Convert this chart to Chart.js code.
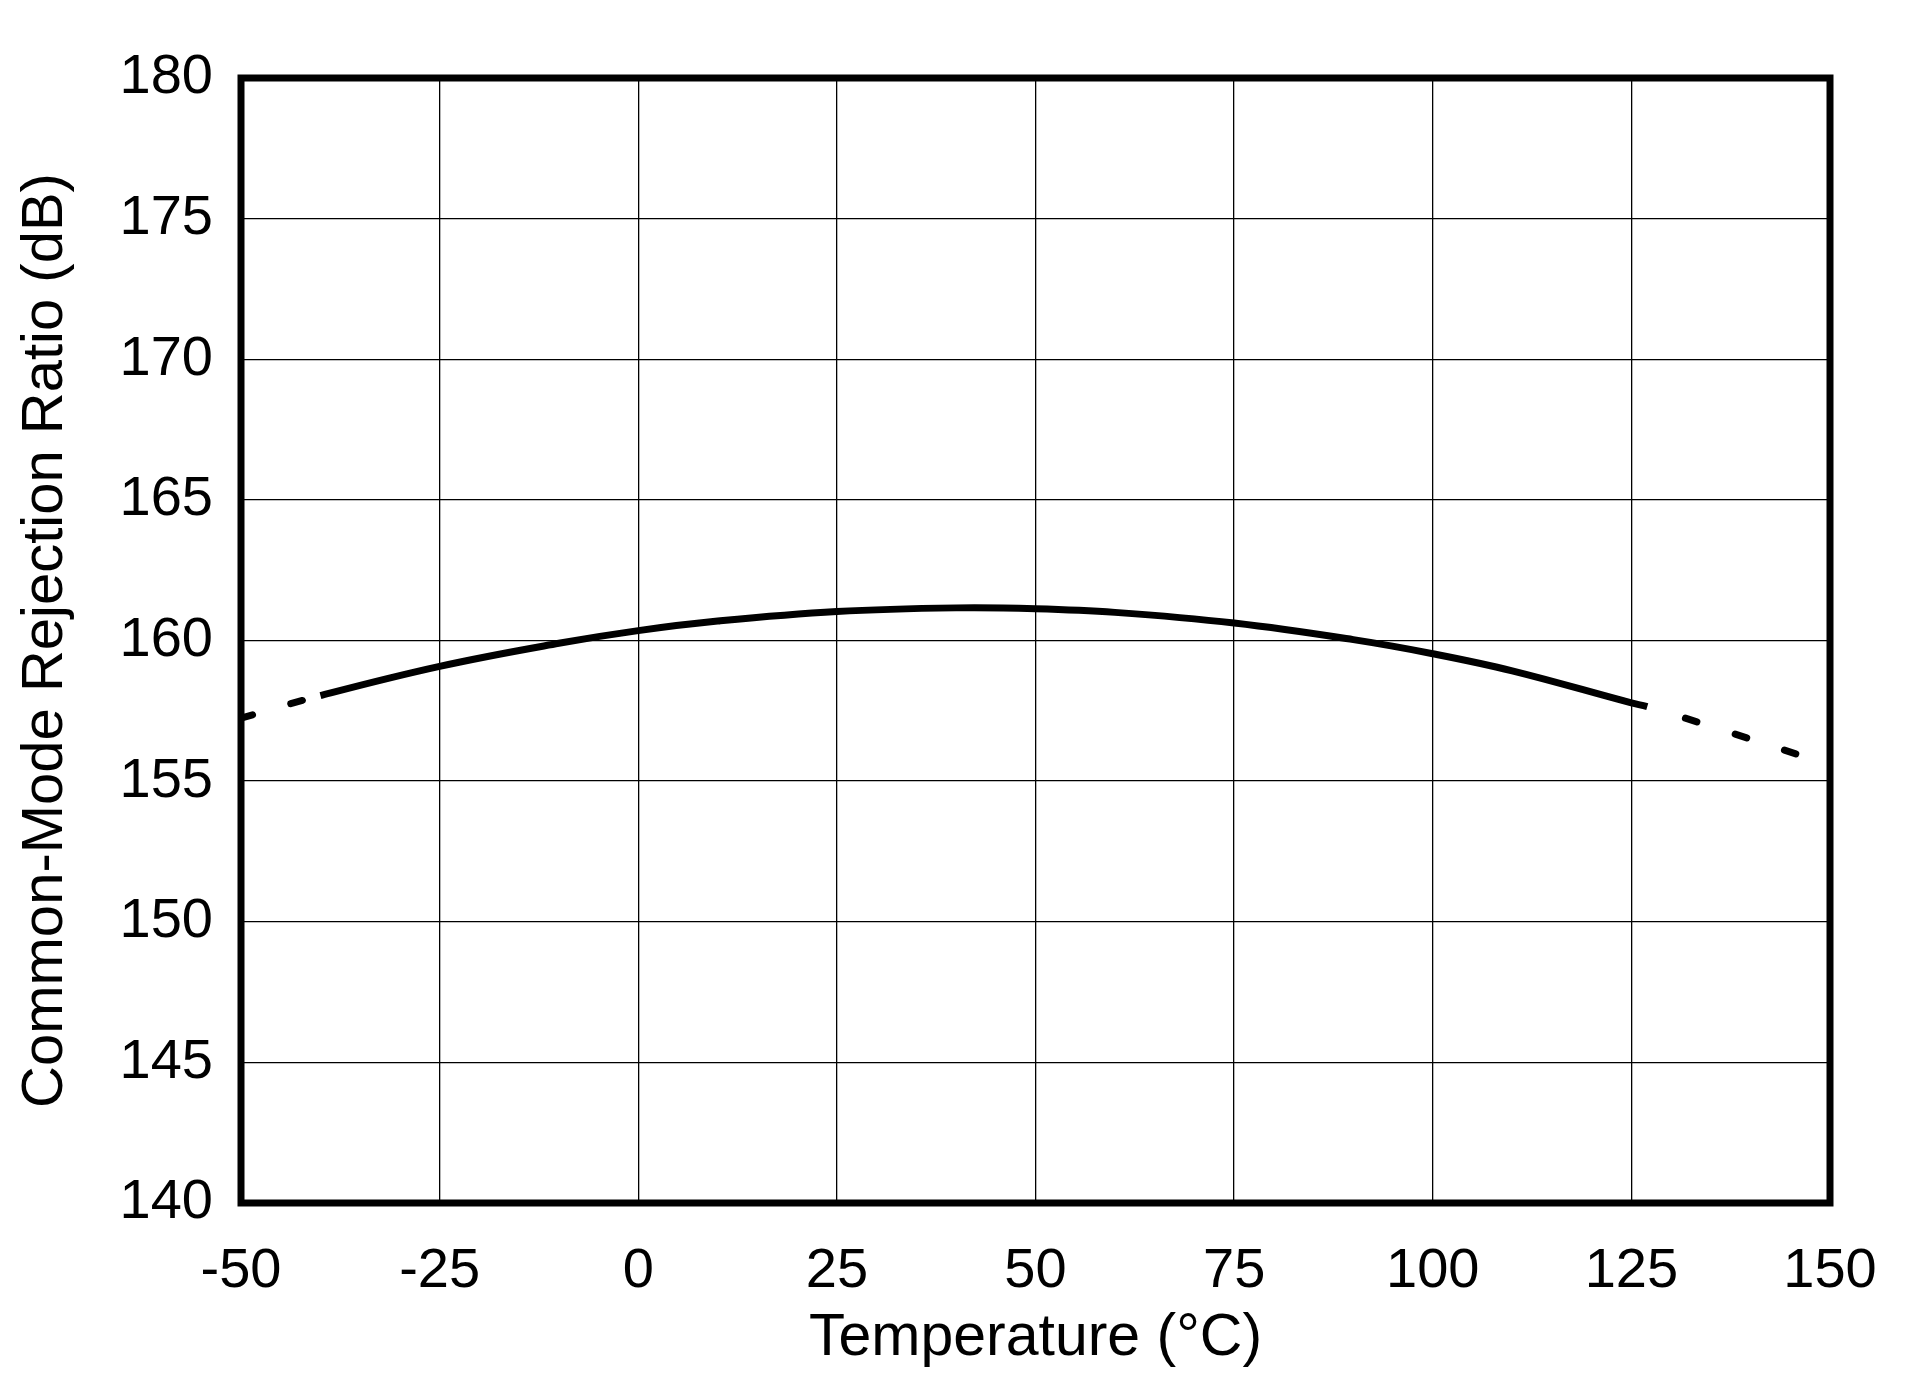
<!DOCTYPE html>
<html>
<head>
<meta charset="utf-8">
<title>CMRR vs Temperature</title>
<script src="https://cdn.jsdelivr.net/npm/chart.js@4.4.1/dist/chart.umd.min.js"></script>
<style>
  html, body { margin: 0; padding: 0; background: #ffffff; }
  canvas { display: block; }
</style>
</head>
<body>
<canvas id="grafico" width="1915" height="1382"></canvas>
<script>
// valores
const temperaturas = [-50, -40, -25, -10, 0, 10, 25, 40, 50, 60, 75, 90, 100, 110, 125, 127, 135, 148];
const cmrr = [157.24, 158.04, 159.08, 159.9, 160.35, 160.69, 161.03, 161.16, 161.13, 161.0, 160.62, 160.03, 159.53, 158.92, 157.78, 157.65, 156.95, 155.76];
const ticksX = [-50, -25, 0, 25, 50, 75, 100, 125, 150];
const ticksY = [140, 145, 150, 155, 160, 165, 170, 175, 180];

// tramo medido (linea continua); fuera de el la curva va a trazos
const inicioSolido = -40;
const finSolido = 127;

const puntos = temperaturas.map((t, i) => ({ x: t, y: cmrr[i] }));

const fuente = 'Liberation Sans, Arial, sans-serif';

// marco completo alrededor del area del grafico
const marco = {
  id: 'marco',
  afterDraw(chart) {
    const a = chart.chartArea;
    const ctx = chart.ctx;
    ctx.save();
    ctx.strokeStyle = '#000';
    ctx.lineWidth = 7;
    ctx.strokeRect(a.left, a.top, a.right - a.left, a.bottom - a.top);
    ctx.restore();
  }
};

function aTrazos(c) {
  return c.p1.parsed.x <= inicioSolido || c.p0.parsed.x >= finSolido;
}

const ctx = document.getElementById('grafico').getContext('2d');
const grafico = new Chart(ctx, {
  type: 'line',
  data: {
    datasets: [{
      data: puntos,
      borderColor: '#000',
      borderWidth: 7,
      pointRadius: 0,
      fill: false,
      tension: 0.4,
      segment: {
        borderDash: c => aTrazos(c) ? [12, 40] : undefined,
        borderDashOffset: c => c.p0.parsed.x >= finSolido ? 12 : 0,
        borderCapStyle: c => aTrazos(c) ? 'round' : 'butt'
      }
    }]
  },
  options: {
    responsive: false,
    animation: false,
    layout: { padding: { top: 78, right: 85, left: 0, bottom: 0 } },
    plugins: {
      legend: { display: false },
      tooltip: { enabled: false }
    },
    scales: {
      x: {
        type: 'linear',
        min: -50,
        max: 150,
        afterBuildTicks: s => { s.ticks = ticksX.map(v => ({ value: v })); },
        afterFit: s => { s.height = 179; },
        grid: { color: '#000', lineWidth: 1.3, drawTicks: false },
        border: { display: false },
        ticks: {
          color: '#000',
          padding: 35,
          maxRotation: 0,
          font: { family: fuente, size: 56 }
        },
        title: {
          display: true,
          text: 'Temperature (°C)',
          color: '#000',
          padding: { top: 0, bottom: 8 },
          font: { family: fuente, size: 59 }
        }
      },
      y: {
        min: 140,
        max: 180,
        afterBuildTicks: s => { s.ticks = ticksY.map(v => ({ value: v })); },
        afterFit: s => { s.width = 241; },
        grid: { color: '#000', lineWidth: 1.3, drawTicks: false },
        border: { display: false },
        ticks: {
          color: '#000',
          padding: 28,
          font: { family: fuente, size: 56 }
        },
        title: {
          display: true,
          text: 'Common-Mode Rejection Ratio (dB)',
          color: '#000',
          padding: { top: 11, bottom: 0 },
          font: { family: fuente, size: 58 }
        }
      }
    }
  },
  plugins: [marco]
});
</script>
</body>
</html>
